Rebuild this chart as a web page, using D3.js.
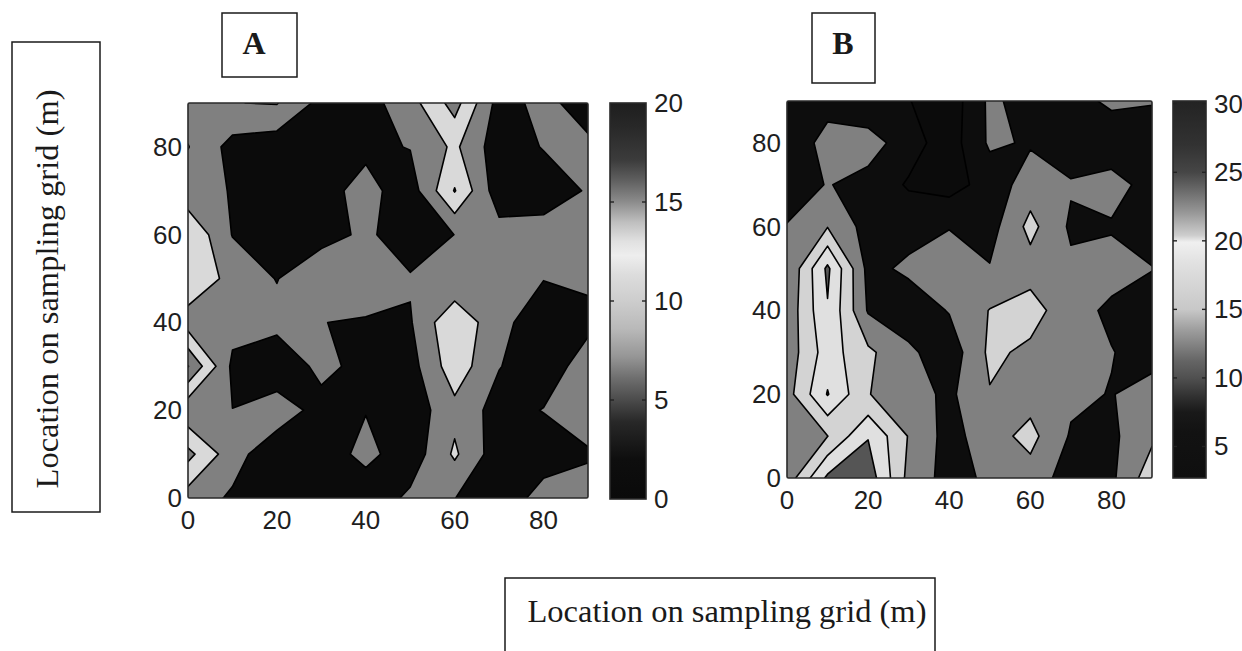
<!DOCTYPE html>
<html>
<head>
<meta charset="utf-8">
<script src="https://cdn.jsdelivr.net/npm/d3@7/dist/d3.min.js"></script>
<style>
  body { margin: 0; background: #fff; }
  svg { display: block; }
</style>
</head>
<body>
<svg id="chart" width="1242" height="651"></svg>
<script>
// sampling grid (m), same along both axes
var gridPos = [0, 10, 20, 30, 40, 50, 60, 70, 80, 90];
var axisTicks = [0, 20, 40, 60, 80];

// panel A values, one row per y (first row is y = 0, last is y = 90)
var gridA = [
  [7.7, 4.3, 1, 1, 1.65, 6, 5.1, 1, 7.45, 7],
  [16.5, 7, 1.5, 2.2, 6.5, 2, 10.8, 2, 2, 4.5],
  [6, 5.05, 8, 3, 4.8, 2, 8.5, 3, 5.2, 7.5],
  [20.2, 4, 1, 6.5, 3.2, 3, 13, 5.2, 2, 7.56],
  [7.5, 6.7, 6.6, 5.05, 4.7, 4.56, 14.5, 6, 3, 3.7],
  [14, 8.35, 4.8, 9.3, 7, 5.5, 5.3, 7, 5.1, 5.83],
  [14.5, 4.8, 2, 3, 6, 2, 5.05, 7, 7.5, 7],
  [6.5, 4.8, 1.5, 3.44, 6.5, 2.5, 15.3, 2, 2, 5.5],
  [10.2, 3.2, 2, 2.5, 4, 5.2, 11, 2, 5.3, 6.1],
  [7, 9.9, 10.25, 3.5, 3, 8, 17, 3, 6.5, 2.5]
];
var levelsA = [5, 10, 15, 20];
var barTicksA = [0, 5, 10, 15, 20];
var barRangeA = [0, 20];

// panel B values, same layout
var gridB = [
  [12, 26, 28, 13.5, 8, 11, 13, 7.5, 9, 18],
  [14.8, 14.9, 24.7, 14.7, 8, 13, 16.5, 9.5, 9, 14],
  [13, 25.3, 15.2, 12, 9, 14.7, 13, 11, 9.8, 12],
  [12, 22.5, 16, 11, 7, 16, 14, 12, 10.2, 8],
  [11.5, 24.6, 9.5, 7, 10.3, 15.2, 17, 12, 9, 7],
  [10.2, 26, 8.5, 11, 12.5, 10.3, 13, 11, 12, 10.2],
  [10.3, 14.8, 8, 8, 9.8, 8, 16.5, 9.2, 9.5, 7],
  [7, 10.3, 8, 4.5, 3, 7, 12.5, 10.5, 12, 8],
  [6, 12, 12.5, 7, 2.5, 10.8, 9.5, 7, 6.6, 5.5],
  [6, 8, 5.5, 5.2, 2, 11, 8, 8, 11, 10.5]
];
var levelsB = [5, 10, 15, 20, 25];
var barTicksB = [5, 10, 15, 20, 25, 30];
var barRangeB = [2.7, 30.2];

// colour bar shading: [value, grey level]
var barShadeA = [[0, 10], [2, 14], [3.9, 40], [5, 75], [6.1, 110], [7.2, 150], [8.6, 185], [10, 205],
                 [11.3, 220], [12.3, 238], [13, 225], [14, 190], [15, 140], [16.1, 95], [17.1, 60], [18.8, 40], [20, 30]];
var barShadeB = [[2.7, 15], [6, 18], [7.5, 25], [8.7, 50], [10, 80], [11.2, 100], [13.6, 160], [15, 200],
                 [18.4, 225], [19.9, 240], [20.4, 205], [22.1, 150], [23.9, 100], [25, 70], [27, 50], [30.2, 35]];

var svg = d3.select("#chart");
var defs = svg.append("defs");
var sans = "'Liberation Sans', Arial, sans-serif";
var serif = "'Liberation Serif', 'Times New Roman', serif";

function grey(v) { return d3.rgb(v, v, v).toString(); }

function drawPanel(p) {
  var x = d3.scaleLinear().domain([0, 90]).range([p.left, p.right]);
  var y = d3.scaleLinear().domain([0, 90]).range([p.bottom, p.top]);
  var n = gridPos.length;
  // d3.contours puts sample i at i + 0.5
  var gi = d3.scaleLinear().domain([0.5, n - 0.5]).range([gridPos[0], gridPos[n - 1]]);

  var values = [].concat.apply([], p.grid);
  var bands = d3.contours().size([n, p.grid.length]).thresholds(p.levels)(values);

  var proj = d3.geoTransform({
    point: function(gx, gy) { this.stream.point(x(gi(gx)), y(gi(gy))); }
  });
  var path = d3.geoPath(proj);

  defs.append("clipPath").attr("id", "clip" + p.name)
    .append("rect")
    .attr("x", p.left).attr("y", p.top)
    .attr("width", p.right - p.left).attr("height", p.bottom - p.top);

  var g = svg.append("g").attr("clip-path", "url(#clip" + p.name + ")");
  g.append("rect")
    .attr("x", p.left).attr("y", p.top)
    .attr("width", p.right - p.left).attr("height", p.bottom - p.top)
    .attr("fill", p.fills[0]);

  g.selectAll("path.band")
    .data(bands)
    .join("path")
    .attr("class", "band")
    .attr("d", path)
    .attr("fill", function(d, i) { return p.fills[i + 1]; })
    .attr("fill-rule", "evenodd")
    .attr("stroke", "#000")
    .attr("stroke-width", 1.6)
    .attr("stroke-linejoin", "round");

  svg.append("rect")
    .attr("x", p.left).attr("y", p.top)
    .attr("width", p.right - p.left).attr("height", p.bottom - p.top)
    .attr("rx", 1.5)
    .attr("fill", "none").attr("stroke", "#2a2a2a").attr("stroke-width", 1.6);

  // tick labels
  svg.append("g").selectAll("text")
    .data(axisTicks).join("text")
    .attr("x", function(d) { return x(d); })
    .attr("y", p.bottom + 31)
    .attr("text-anchor", "middle")
    .attr("font-family", sans).attr("font-size", 26).attr("fill", "#1e1e1e")
    .text(function(d) { return d; });

  svg.append("g").selectAll("text")
    .data(axisTicks).join("text")
    .attr("x", p.left - 6)
    .attr("y", function(d) { return y(d) + 9; })
    .attr("text-anchor", "end")
    .attr("font-family", sans).attr("font-size", 26).attr("fill", "#1e1e1e")
    .text(function(d) { return d; });

  // colour bar
  var cb = d3.scaleLinear().domain(p.barRange).range([p.barBottom, p.barTop]);
  var gradId = "grad" + p.name;
  var grad = defs.append("linearGradient").attr("id", gradId)
    .attr("gradientUnits", "userSpaceOnUse")
    .attr("x1", 0).attr("x2", 0).attr("y1", p.barBottom).attr("y2", p.barTop);
  grad.selectAll("stop").data(p.barShade).join("stop")
    .attr("offset", function(d) { return (d[0] - p.barRange[0]) / (p.barRange[1] - p.barRange[0]); })
    .attr("stop-color", function(d) { return grey(d[1]); });

  svg.append("rect")
    .attr("x", p.barLeft).attr("y", p.barTop)
    .attr("width", p.barRight - p.barLeft).attr("height", p.barBottom - p.barTop)
    .attr("fill", "url(#" + gradId + ")")
    .attr("stroke", "#2a2a2a").attr("stroke-width", 1.6);

  var inner = p.barTicks.filter(function(d) { return cb(d) > p.barTop + 2 && cb(d) < p.barBottom - 2; });
  var tg = svg.append("g").attr("stroke", "#222").attr("stroke-width", 1.4);
  tg.selectAll("line.l").data(inner).join("line").attr("class", "l")
    .attr("x1", p.barLeft).attr("x2", p.barLeft + 4)
    .attr("y1", function(d) { return cb(d); }).attr("y2", function(d) { return cb(d); });
  tg.selectAll("line.r").data(inner).join("line").attr("class", "r")
    .attr("x1", p.barRight).attr("x2", p.barRight - 4)
    .attr("y1", function(d) { return cb(d); }).attr("y2", function(d) { return cb(d); });

  svg.append("g").selectAll("text")
    .data(p.barTicks).join("text")
    .attr("x", p.barRight + 8)
    .attr("y", function(d) { return cb(d) + 9; })
    .attr("font-family", sans).attr("font-size", 26).attr("fill", "#1e1e1e")
    .text(function(d) { return d; });

  // panel letter in its box
  svg.append("rect")
    .attr("x", p.boxX).attr("y", 13).attr("width", p.boxW).attr("height", p.boxH)
    .attr("fill", "none").attr("stroke", "#1a1a1a").attr("stroke-width", 1.5);
  svg.append("text")
    .attr("x", p.letterX).attr("y", 54)
    .attr("text-anchor", "middle")
    .attr("font-family", serif).attr("font-weight", "bold").attr("font-size", 32)
    .attr("fill", "#1a1a1a")
    .text(p.name);
}

drawPanel({
  name: "A", grid: gridA, levels: levelsA,
  fills: ["#0b0b0b", "#808080", "#d9d9d9", "#7c7c7c", "#3a3a3a"],
  left: 188, right: 588, top: 103, bottom: 498,
  barLeft: 610, barRight: 646, barTop: 103, barBottom: 499,
  barRange: barRangeA, barTicks: barTicksA, barShade: barShadeA,
  boxX: 222, boxW: 75, boxH: 64, letterX: 254
});

drawPanel({
  name: "B", grid: gridB, levels: levelsB,
  fills: ["#0b0b0b", "#0d0d0d", "#808080", "#d3d3d3", "#e0e0e0", "#555555"],
  left: 787, right: 1152, top: 101, bottom: 478,
  barLeft: 1173, barRight: 1206, barTop: 101, barBottom: 478,
  barRange: barRangeB, barTicks: barTicksB, barShade: barShadeB,
  boxX: 812, boxW: 63, boxH: 70, letterX: 843
});

// shared axis titles in boxes
svg.append("rect")
  .attr("x", 12).attr("y", 42).attr("width", 88).attr("height", 470)
  .attr("fill", "none").attr("stroke", "#1a1a1a").attr("stroke-width", 1.5);
svg.append("text")
  .attr("transform", "translate(58,289) rotate(-90)")
  .attr("text-anchor", "middle")
  .attr("font-family", serif).attr("font-size", 32.5).attr("fill", "#1a1a1a")
  .text("Location on sampling grid (m)");

svg.append("path")
  .attr("d", "M505,651 V578 H935 V651")
  .attr("fill", "none").attr("stroke", "#1a1a1a").attr("stroke-width", 1.5);
svg.append("text")
  .attr("x", 727).attr("y", 622)
  .attr("text-anchor", "middle")
  .attr("font-family", serif).attr("font-size", 32.5).attr("fill", "#1a1a1a")
  .text("Location on sampling grid (m)");
</script>
</body>
</html>
